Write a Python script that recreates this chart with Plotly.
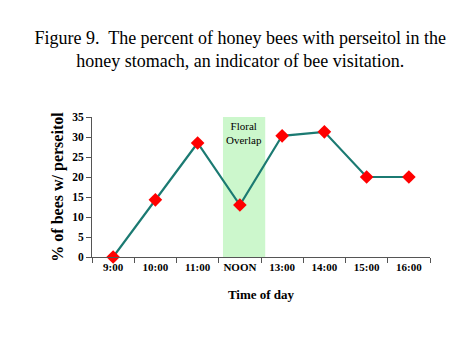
import plotly.graph_objects as go

times = ["9:00", "10:00", "11:00", "NOON", "13:00", "14:00", "15:00", "16:00"]
pct_perseitol = [0, 14.3, 28.5, 13, 30.3, 31.3, 20, 20]
y_ticks = [0, 5, 10, 15, 20, 25, 30, 35]
overlap_start, overlap_end = 2.6, 3.6

FONT = "Liberation Serif, Times New Roman, serif"

fig = go.Figure()
fig.add_shape(type="rect", xref="x", yref="y", x0=overlap_start, x1=overlap_end,
              y0=0, y1=35, fillcolor="#ccf7cc", line_width=0, layer="below")
fig.add_trace(go.Scatter(
    x=times, y=pct_perseitol, mode="lines+markers",
    line=dict(color="#1b7a72", width=2.2),
    marker=dict(symbol="diamond", size=10.5, color="#ff0000", line_width=0),
    cliponaxis=False, showlegend=False))

fig.add_annotation(x=(overlap_start + overlap_end) / 2, y=35, xref="x", yref="y",
                   text="Floral<br>Overlap", showarrow=False, yanchor="top", yshift=-1,
                   font=dict(family=FONT, size=11, color="black"))

fig.update_layout(
    width=474, height=355,
    margin=dict(l=84, r=52, t=109, b=106),
    paper_bgcolor="white", plot_bgcolor="white",
    title=dict(text="Figure 9.  The percent of honey bees with perseitol in the<br>honey stomach, an indicator of bee visitation.",
               x=0.49, xanchor="center", y=0.899, yanchor="top",
               font=dict(family=FONT, size=18, color="black")),
    xaxis=dict(type="category", categoryorder="array", categoryarray=times,
               range=[-0.5, 7.5], tickson="boundaries", ticks="outside", ticklen=5,
               tickcolor="#555", showline=True, linecolor="#555", linewidth=1,
               showgrid=False, zeroline=False,
               tickfont=dict(family=FONT, size=11, color="black", weight="bold"),
               title=dict(text="<b>Time of day</b>", standoff=17,
                          font=dict(family=FONT, size=13, color="black"))),
    yaxis=dict(range=[0, 35], tickvals=y_ticks, ticks="outside", ticklen=5,
               tickcolor="#555", showline=True, linecolor="#555", linewidth=1,
               showgrid=False, zeroline=False,
               tickfont=dict(family=FONT, size=11.5, color="black", weight="bold"),
               title=dict(text="<b>% of bees w/ perseitol</b>", standoff=4,
                          font=dict(family=FONT, size=16, color="black"))),
)

fig.write_html("out.html")
